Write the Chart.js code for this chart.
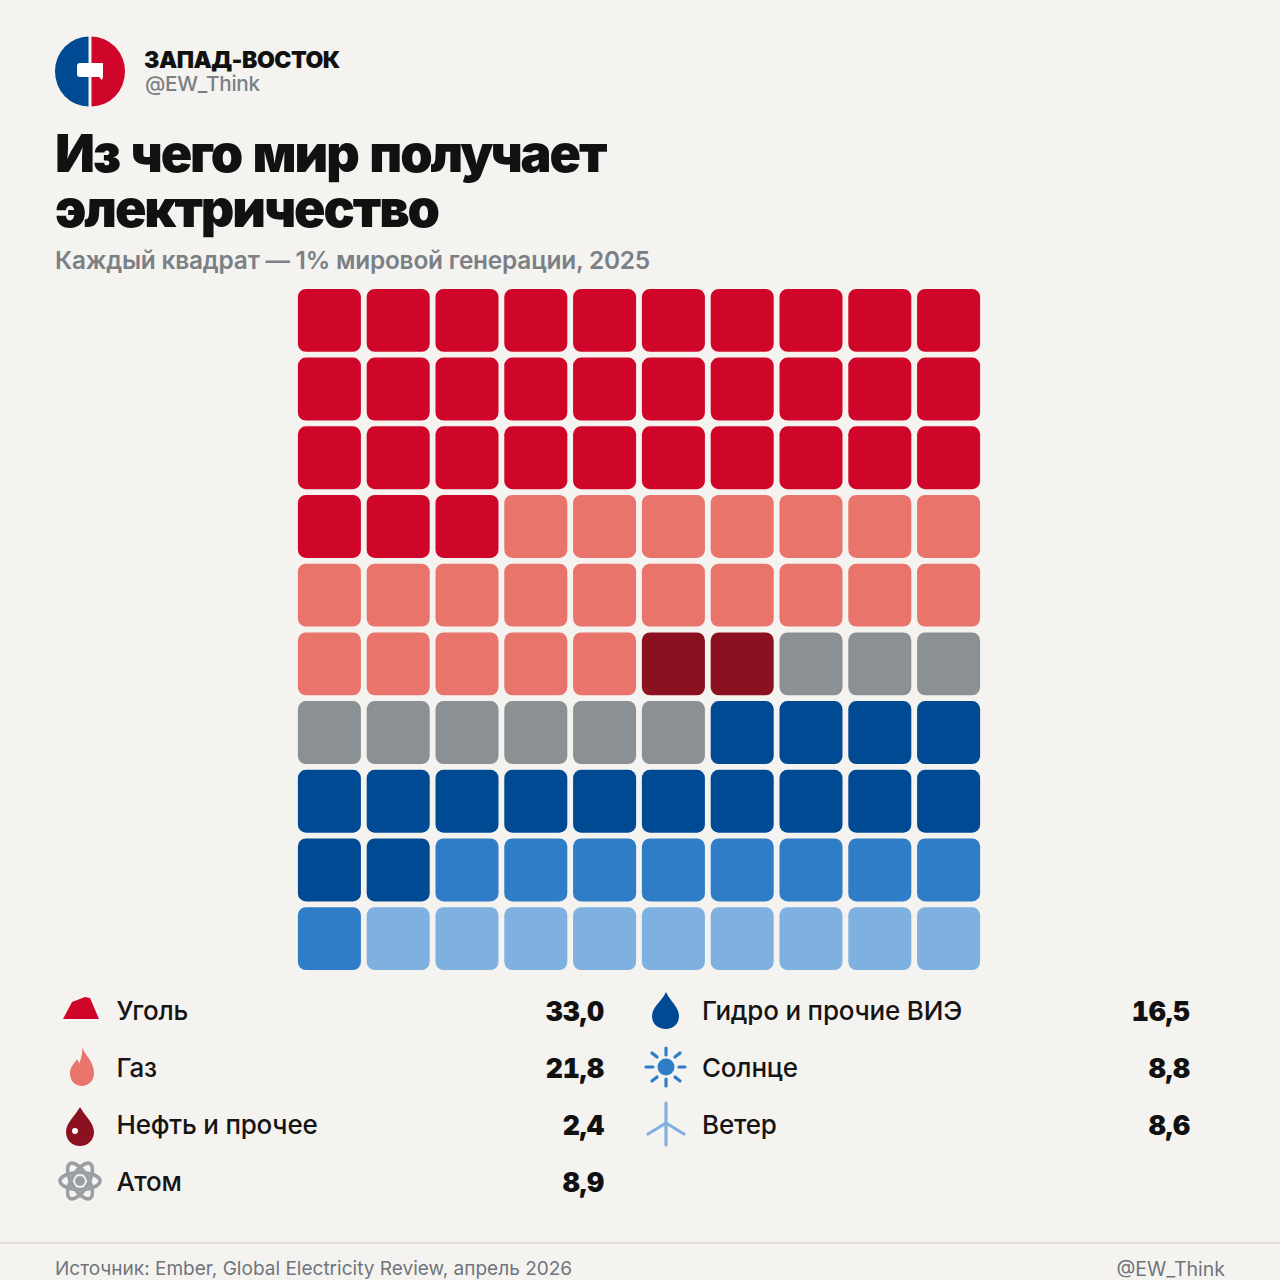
<!DOCTYPE html>
<html lang="ru">
<head>
<meta charset="utf-8">
<title>Из чего мир получает электричество</title>
<script src="https://cdn.jsdelivr.net/npm/chart.js@4"></script>
<style>
html, body { margin: 0; padding: 0; background: #f5f3f0; }
body { position: relative; width: 1280px; height: 1280px; overflow: hidden; font-family: Inter, "Noto Sans", sans-serif; color: #111; }
.abs { position: absolute; white-space: nowrap; }
#brand { left: 144px; top: 45px; font-size: 23px; line-height: 30px; font-weight: 900; letter-spacing: -0.5px; }
#handle { left: 145px; top: 71px; font-size: 20.7px; line-height: 26px; font-weight: 500; color: #7a8085; letter-spacing: -0.25px; }
#title { left: 55px; top: 126px; font-size: 52px; line-height: 55px; font-weight: 900; letter-spacing: -2.1px; word-spacing: 3.3px; color: #111; }
#sub { left: 55px; top: 245px; font-size: 24.4px; line-height: 30px; font-weight: 600; color: #7a8085; letter-spacing: -0.2px; }
#wrap { position: absolute; left: 295px; top: 286px; width: 688px; height: 687px; }
.lab { font-size: 26px; line-height: 32px; font-weight: 500; color: #151515; letter-spacing: -0.2px; }
.val { font-size: 26.5px; line-height: 32px; font-weight: 900; color: #111; text-align: right; font-variant-numeric: tabular-nums; font-feature-settings: "tnum" 1; }
#rule { position: absolute; left: 0; top: 1242px; width: 1280px; height: 2px; background: #e3e0db; }
.foot { font-size: 19.5px; line-height: 24px; font-weight: 400; color: #6f757b; top: 1257px; }
svg { position: absolute; overflow: visible; }
</style>
</head>
<body>

<svg style="left:55px;top:36px" width="70" height="71" viewBox="0 0 70 71">
  <path d="M33.5 0.5 A33.5 35 0 0 0 33.5 70.5 Z" fill="#004a94"/>
  <path d="M36.5 0.5 A33.5 35 0 0 1 36.5 70.5 Z" fill="#cf0629"/>
  <path d="M22 30 q0 -3 3 -3 h23 v14 l-1 3 l-3 -3 h-19 q-3 0 -3 -3 Z" fill="#fff"/>
</svg>
<div class="abs" id="brand">ЗАПАД-ВОСТОК</div>
<div class="abs" id="handle">@EW_Think</div>
<div class="abs" id="title">Из чего мир получает<br>электричество</div>
<div class="abs" id="sub">Каждый квадрат — 1% мировой генерации, 2025</div>

<div id="wrap"><canvas id="waffle"></canvas></div>

<div id="legend"></div>

<div id="rule"></div>
<div class="abs foot" style="left:55px;font-size:19.05px">Источник: Ember, Global Electricity Review, апрель 2026</div>
<div class="abs foot" style="right:55px">@EW_Think</div>

<script>
//datos
const sources = ['Уголь', 'Газ', 'Нефть и прочее', 'Атом', 'Гидро и прочие ВИЭ', 'Солнце', 'Ветер'];
const shares = [33.0, 21.8, 2.4, 8.9, 16.5, 8.8, 8.6];
const squares = [33, 22, 2, 9, 16, 9, 9];
const colors = ['#cf0629', '#e9746c', '#8c1120', '#8b9094', '#004a94', '#2f7dc6', '#7fb1e0'];
const columns = ['1', '2', '3', '4', '5', '6', '7', '8', '9', '10'];
const rowsCount = 10;

//iconos
const icons = [
  '<path d="M0 22 L9 5 L22 0 L27 1 L36 22 Z" fill="#cf0629"/>',
  '<path d="M13 0 C14 8 25 14 25 27 C25 35 19 40 13 40 C6 40 1 35 1 27 C1 20 6 17 8 13 C9 15 10 16 10 18 C12 13 14 7 13 0 Z" fill="#e9746c"/>',
  '<path d="M15 0 C20 9 29 16 29 25 C29 33 23 39 15 39 C7 39 1 33 1 25 C1 16 10 9 15 0 Z" fill="#8c1120"/><circle cx="10" cy="24" r="3" fill="#fff"/>',
  '<g fill="none" stroke="#9a9fa3" stroke-width="3.6"><ellipse cx="21" cy="20" rx="20" ry="8.5"/><ellipse cx="21" cy="20" rx="20" ry="8.5" transform="rotate(60 21 20)"/><ellipse cx="21" cy="20" rx="20" ry="8.5" transform="rotate(120 21 20)"/></g><circle cx="21" cy="20" r="5" fill="#9a9fa3"/>',
  '<path d="M14 0 C18 9 27 15 27 24 C27 32 21 37 14 37 C6 37 0 32 0 24 C0 15 10 9 14 0 Z" fill="#004a94"/>',
  '<circle cx="21" cy="20" r="8.5" fill="#2f7dc6"/><g stroke="#2f7dc6" stroke-width="3.2" stroke-linecap="round"><path d="M21 1 V8"/><path d="M21 32 V39"/><path d="M1 20 H8"/><path d="M34 20 H40"/><path d="M7 6 L12 10"/><path d="M30 10 L35 6"/><path d="M7 34 L12 30"/><path d="M30 30 L35 34"/></g>',
  '<g stroke="#7fb1e0" stroke-width="3.2" stroke-linecap="round" fill="none"><path d="M20 1 V43"/><path d="M20 21 L2 32"/><path d="M20 21 L38 32"/></g>'
];
const iconBox = [[63, 997], [69, 1046], [65, 1107], [59, 1161], [652, 992], [645, 1047], [646, 1102]];
const rowTop = [995, 1052, 1109, 1166];

//leyenda
const legend = document.getElementById('legend');
for (let index = 0; index < sources.length; index++) {
    const right = index > 3;
    const r = right ? index - 4 : index;
    const labelX = right ? 702 : 116.5;
    const valueRight = right ? 1280 - 1190 : 1280 - 604;
    legend.insertAdjacentHTML('beforeend',
        `<svg style="left:${iconBox[index][0]}px;top:${iconBox[index][1]}px" width="42" height="44">${icons[index]}</svg>` +
        `<div class="abs lab" style="left:${labelX}px;top:${rowTop[r]}px">${sources[index]}</div>` +
        `<div class="abs val" style="right:${valueRight}px;top:${rowTop[r]}px">${shares[index].toFixed(1).replace('.', ',')}</div>`);
}

//grafico
const inset = 0.042;
let cell = 0;
const datasets = sources.map((name, s) => {
    const points = [];
    for (let n = 0; n < squares[s]; n++) {
        const col = cell % columns.length;
        const row = Math.floor(cell / columns.length);
        points.push({ x: columns[col], y: [rowsCount - row - 1 + inset, rowsCount - row - inset] });
        cell++;
    }
    return {
        label: name,
        data: points,
        backgroundColor: colors[s],
        borderWidth: 0,
        borderRadius: 8,
        borderSkipped: false,
        grouped: false,
        barPercentage: 0.916,
        categoryPercentage: 1
    };
});

var ctx = document.getElementById('waffle');
var myChart = new Chart(ctx, {
    type: 'bar',
    data: { labels: columns, datasets: datasets },
    options: {
        responsive: true,
        maintainAspectRatio: false,
        animation: false,
        layout: { padding: 0 },
        plugins: { legend: { display: false }, tooltip: { enabled: false } },
        scales: {
            x: { display: false },
            y: { display: false, min: 0, max: rowsCount }
        }
    }
});
</script>
</body>
</html>
